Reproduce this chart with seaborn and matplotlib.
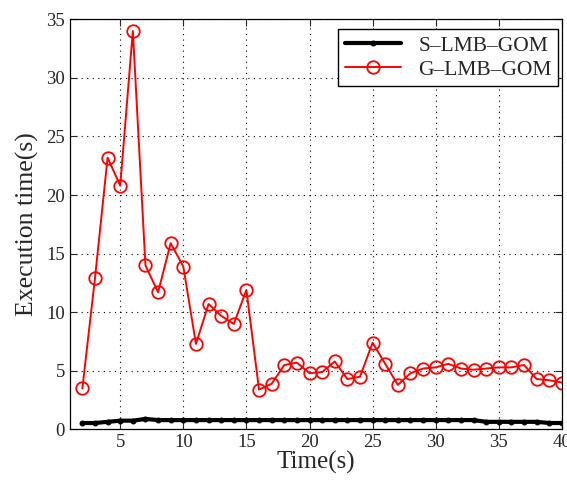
import numpy as np
import pandas as pd
import matplotlib
matplotlib.use("Agg")
import matplotlib.pyplot as plt
import seaborn as sns

# ── Data ──────────────────────────────────────────────────────────────────────
time_s = list(range(2, 41))
s_lmb_gom = [0.55, 0.55, 0.65, 0.75, 0.75, 0.9] + [0.8] * 26 + [0.65] * 5 + [0.55] * 2
g_lmb_gom = [3.5, 12.9, 23.2, 20.8, 34.0, 14.0, 11.7, 15.9, 13.9, 7.3,
             10.7, 9.7, 9.0, 11.9, 3.4, 3.9, 5.5, 5.7, 4.8, 4.9,
             5.8, 4.3, 4.5, 7.4, 5.6, 3.8, 4.8, 5.2, 5.3, 5.6,
             5.2, 5.1, 5.2, 5.3, 5.3, 5.5, 4.3, 4.2, 4.0]
x_ticks = [5, 10, 15, 20, 25, 30, 35, 40]
y_ticks = [0, 5, 10, 15, 20, 25, 30, 35]

df_s = pd.DataFrame({"t": time_s, "v": s_lmb_gom})
df_g = pd.DataFrame({"t": time_s, "v": g_lmb_gom})

# ── Style ─────────────────────────────────────────────────────────────────────
sns.set_style("ticks")
plt.rcParams["font.family"] = ["Liberation Serif", "DejaVu Serif"]

fig = plt.figure(figsize=(5.67, 4.82), dpi=100)
ax = fig.add_axes([0.123, 0.109, 0.868, 0.851])

sns.lineplot(data=df_s, x="t", y="v", ax=ax, color="black", linewidth=3,
             marker="o", markersize=3.5, markeredgecolor="black",
             label="S\u2013LMB\u2013GOM")
sns.lineplot(data=df_g, x="t", y="v", ax=ax, color="red", linewidth=1.4,
             marker="o", markersize=9, markerfacecolor="none",
             markeredgecolor="red", markeredgewidth=1.3,
             label="G\u2013LMB\u2013GOM")

ax.set_xlim(1, 40)
ax.set_ylim(0, 35)
ax.set_xticks(x_ticks)
ax.set_yticks(y_ticks)
ax.grid(True, linestyle=(0, (1, 4)), color="black", linewidth=0.8)
ax.tick_params(direction="in", top=True, right=True, labelsize=13.5, length=5,
               width=0.8)
for sp in ax.spines.values():
    sp.set_color("black")
    sp.set_linewidth(0.9)

ax.set_xlabel("Time(s)", fontsize=18, labelpad=0)
ax.set_ylabel("Execution time(s)", fontsize=18.5, labelpad=5)

leg = ax.legend(loc="upper right", bbox_to_anchor=(0.992, 0.976),
                fontsize=15.5, frameon=True, fancybox=False,
                edgecolor="black", framealpha=1, borderaxespad=0,
                handlelength=2.6, labelspacing=0.2, borderpad=0.3)
leg.get_frame().set_linewidth(1.0)

fig.savefig("out.png", dpi=100)
plt.close(fig)
